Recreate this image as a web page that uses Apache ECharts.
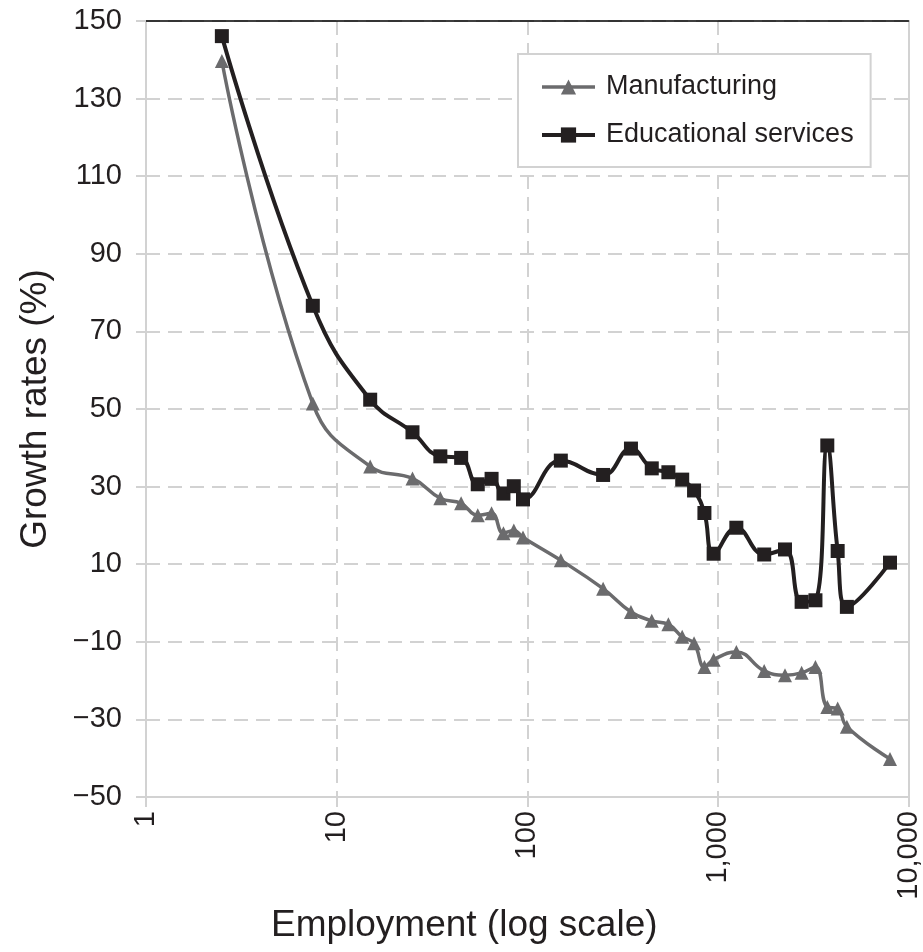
<!DOCTYPE html>
<html>
<head>
<meta charset="utf-8">
<script src="https://cdn.jsdelivr.net/npm/echarts@6/dist/echarts.min.js"></script>
<style>
html,body{margin:0;padding:0;background:#fff;}
#chart{width:923px;height:952px;}
</style>
</head>
<body>
<div id="chart"></div>
<script>
// Employment size classes (log-scale x)
var employment = [2.5, 7.5, 15, 25, 35, 45, 55, 65, 75, 85, 95, 150, 250, 350, 450, 550, 650, 750, 850, 950, 1250, 1750, 2250, 2750, 3250, 3750, 4250, 4750, 8000];
// Growth rates (%)
var manufacturing = [139.7, 51.4, 35.2, 32.1, 27, 25.7, 22.6, 23.1, 18, 18.7, 16.9, 11, 3.7, -2.3, -4.6, -5.5, -8.7, -10.4, -16.5, -14.6, -12.6, -17.5, -18.6, -18, -16.5, -26.8, -27.2, -31.9, -40.2];
var educational = [146.1, 76.6, 52.4, 44, 37.8, 37.4, 30.6, 32, 28.2, 30.1, 26.7, 36.7, 33, 39.8, 34.7, 33.7, 31.8, 29, 23.2, 12.7, 19.4, 12.5, 13.8, 0.3, 0.7, 40.6, 13.4, -1, 10.4];
var seriesNames = ['Manufacturing', 'Educational services'];
var xTickValues = [1, 10, 100, 1000, 10000];
var yTickMin = -50, yTickMax = 150, yTickStep = 20;

function pairs(xs, ys) { return xs.map(function (x, i) { return [x, ys[i]]; }); }

var FONT = "'Liberation Sans', Arial, Helvetica, sans-serif";
var TXT = '#231f20';
var GRIDC = '#d2d2d2';
var MFG = '#6b6b6d';
var EDU = '#231f20';

var chart = echarts.init(document.getElementById('chart'), null, {renderer: 'canvas'});
chart.setOption({
  backgroundColor: '#ffffff',
  animation: false,
  textStyle: {fontFamily: FONT, color: TXT},
  grid: {left: 146, right: 10, top: 21, bottom: 155, containLabel: false},
  legend: {
    orient: 'vertical',
    left: 518, top: 54,
    data: [
      {name: seriesNames[0], lineStyle: {width: 3.5, color: MFG}},
      {name: seriesNames[1], lineStyle: {width: 4, color: EDU}}
    ],
    itemWidth: 53, itemHeight: 19,
    itemGap: 18,
    padding: [18, 17, 17, 22],
    borderColor: GRIDC, borderWidth: 2,
    backgroundColor: '#ffffff',
    textStyle: {fontFamily: FONT, fontSize: 27, lineHeight: 30, color: TXT, padding: [0, 0, 0, 6]}
  },
  xAxis: [{
    type: 'log', logBase: 10, min: 1, max: 10000,
    name: 'Employment (log scale)', nameLocation: 'middle', nameGap: 108,
    nameTextStyle: {fontFamily: FONT, fontSize: 37, color: TXT, padding: [0, 126, 0, 0]},
    axisLine: {show: true, onZero: false, lineStyle: {color: GRIDC, width: 2}},
    axisTick: {show: true, length: 10, lineStyle: {color: GRIDC, width: 2}},
    axisLabel: {
      rotate: 90, margin: 14, fontFamily: FONT, fontSize: 29, color: TXT,
      formatter: function (v) { var r = Math.round(v); return xTickValues.indexOf(r) >= 0 ? r.toLocaleString('en-US') : ''; }
    },
    splitLine: {show: true, lineStyle: {color: GRIDC, width: 2, type: [14, 8]}},
    minorTick: {show: false}
  }, {
    type: 'value', min: 0, max: 1, position: 'top',
    axisLine: {show: true, onZero: false, lineStyle: {color: '#000000', width: 1.5}},
    axisTick: {show: false}, axisLabel: {show: false}, splitLine: {show: false}
  }],
  yAxis: [{
    type: 'value', min: yTickMin, max: yTickMax, interval: yTickStep,
    name: 'Growth rates (%)', nameLocation: 'middle', nameGap: 92, nameRotate: 90,
    nameTextStyle: {fontFamily: FONT, fontSize: 37, color: TXT},
    axisLine: {show: true, onZero: false, lineStyle: {color: GRIDC, width: 2}},
    axisTick: {show: true, length: 10, lineStyle: {color: GRIDC, width: 2}},
    axisLabel: {
      margin: 24, fontFamily: FONT, fontSize: 29, color: TXT,
      formatter: function (v) { return v < 0 ? '\u2212' + Math.abs(v) : String(v); }
    },
    splitLine: {show: true, lineStyle: {color: GRIDC, width: 2, type: [14, 8]}}
  }, {
    type: 'value', min: 0, max: 1, position: 'right',
    axisLine: {show: true, onZero: false, lineStyle: {color: GRIDC, width: 2}},
    axisTick: {show: false}, axisLabel: {show: false}, splitLine: {show: false}
  }],
  series: [{
    name: seriesNames[0], type: 'line', xAxisIndex: 0, yAxisIndex: 0,
    data: pairs(employment, manufacturing),
    smooth: 0.45,
    symbol: 'triangle', symbolSize: 14,
    itemStyle: {color: MFG},
    lineStyle: {color: MFG, width: 3.5}
  }, {
    name: seriesNames[1], type: 'line', xAxisIndex: 0, yAxisIndex: 0,
    data: pairs(employment, educational),
    smooth: 0.45,
    symbol: 'rect', symbolSize: 14,
    itemStyle: {color: EDU},
    lineStyle: {color: EDU, width: 4}
  }]
});
</script>
</body>
</html>
